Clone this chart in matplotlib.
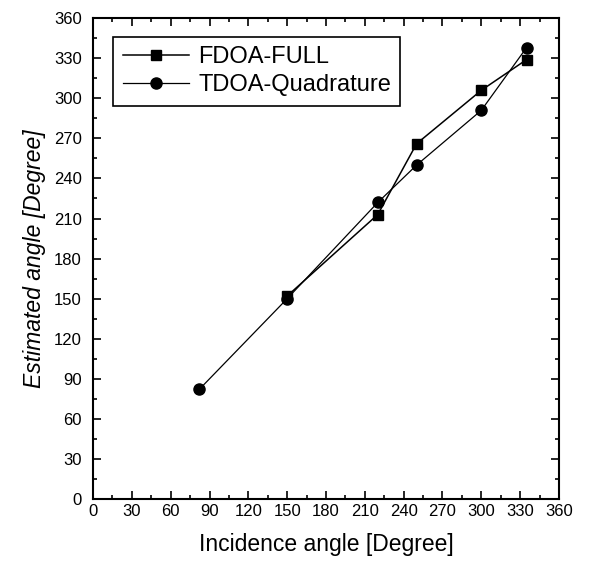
import matplotlib
matplotlib.use("Agg")
import matplotlib.pyplot as plt
from matplotlib.ticker import MultipleLocator

plt.rcParams['font.family'] = ['Liberation Sans', 'DejaVu Sans']

# data
fdoa_x = [150, 220, 250, 300, 335]
fdoa_y = [152, 213, 266, 306, 329]
tdoa_x = [82, 150, 220, 250, 300, 335]
tdoa_y = [82, 150, 222, 250, 291, 338]

fig = plt.figure(figsize=(5.89, 5.68), dpi=100)
ax = fig.add_axes([0.158, 0.1215, 0.791, 0.8465])

ax.plot(fdoa_x, fdoa_y, color='black', lw=1.1, marker='s', ms=7.5, label='FDOA-FULL')
ax.plot(tdoa_x, tdoa_y, color='black', lw=0.9, marker='o', ms=8, label='TDOA-Quadrature')

ax.set_xlim(0, 360)
ax.set_ylim(0, 360)
ax.xaxis.set_major_locator(MultipleLocator(30))
ax.yaxis.set_major_locator(MultipleLocator(30))
ax.xaxis.set_minor_locator(MultipleLocator(15))
ax.yaxis.set_minor_locator(MultipleLocator(15))
ax.tick_params(which='both', direction='in', top=True, right=True, labelsize=12, width=1.2)
ax.tick_params(which='major', length=6)
ax.tick_params(which='minor', length=3)
ax.tick_params(axis='y', pad=8)
for s in ax.spines.values():
    s.set_linewidth(1.5)

ax.set_xlabel('Incidence angle [Degree]', fontsize=16.5, labelpad=10)
ax.set_ylabel('Estimated angle [Degree]', fontsize=16.5, style='italic', labelpad=6)

leg = ax.legend(loc='upper left', fontsize=17, fancybox=False, edgecolor='black',
                framealpha=1, borderpad=0.4, labelspacing=0.25, handlelength=2.8,
                handletextpad=0.4, borderaxespad=0, bbox_to_anchor=(0.043, 0.961))
leg.get_frame().set_linewidth(1.2)

fig.savefig('out.png', dpi=100)
